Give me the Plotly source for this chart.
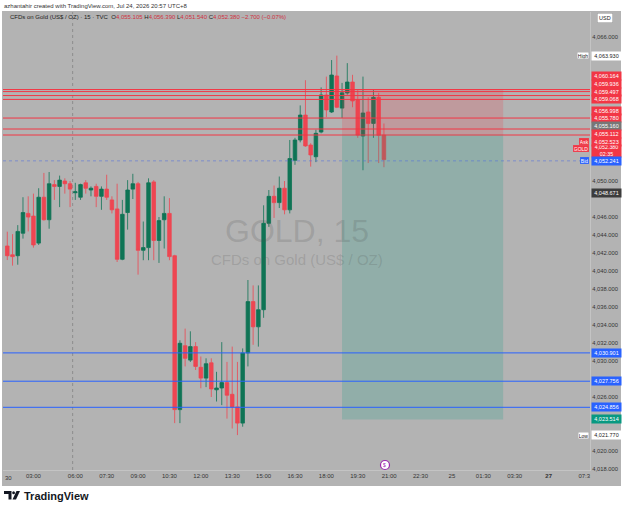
import plotly.graph_objects as go

# ---------------- data ----------------
bar_index = list(range(-13, 60))
open_ = [4042.78, 4041.8, 4041.7, 4044.2, 4046.4, 4046.1, 4043.1, 4048.2, 4045.7, 4049.6,
         4049.4, 4050.0, 4049.7, 4048.7, 4048.2, 4049.8, 4049.0, 4049.4, 4048.3, 4049.1,
         4047.9, 4046.9, 4041.3, 4046.5, 4049.1, 4049.7, 4042.3, 4042.6, 4049.9, 4043.4,
         4045.7, 4046.4, 4041.7, 4024.6, 4031.7, 4030.1, 4031.6, 4029.3, 4028.1, 4029.8,
         4026.8, 4027.0, 4027.6, 4026.3, 4024.9, 4023.1, 4030.9, 4036.6, 4033.8, 4035.7,
         4045.3, 4048.3, 4047.6, 4049.2, 4046.8, 4052.3, 4054.56, 4057.33, 4054.0, 4052.7,
         4055.44, 4059.56, 4057.67, 4061.67, 4058.1, 4059.78, 4061.0, 4059.0, 4055.0, 4057.67,
         4056.4, 4059.3, 4055.105]
high = [4044.37, 4044.1, 4045.1, 4048.2, 4048.3, 4048.6, 4049.2, 4050.9, 4051.0, 4050.1,
        4050.6, 4050.3, 4050.0, 4049.8, 4049.7, 4050.1, 4049.4, 4049.7, 4049.4, 4050.7,
        4048.3, 4049.7, 4047.9, 4050.1, 4050.8, 4049.9, 4045.5, 4050.3, 4050.1, 4046.0,
        4048.3, 4048.1, 4041.8, 4032.3, 4033.6, 4033.3, 4032.1, 4030.5, 4030.3, 4030.3,
        4028.8, 4032.1, 4029.9, 4031.6, 4029.9, 4031.4, 4039.0, 4038.4, 4038.4, 4047.3,
        4049.0, 4049.5, 4050.5, 4050.0, 4054.56, 4054.8, 4058.4, 4061.2, 4054.2, 4055.7,
        4060.4, 4061.6, 4063.44, 4063.93, 4060.9, 4063.1, 4061.8, 4060.1, 4061.6, 4059.3,
        4060.1, 4059.8, 4056.39]
low = [4041.22, 4040.6, 4040.7, 4043.6, 4044.4, 4042.6, 4042.9, 4045.6, 4044.7, 4047.9,
       4047.1, 4048.6, 4047.1, 4047.9, 4047.9, 4048.6, 4048.3, 4047.1, 4046.8, 4047.9,
       4046.4, 4041.0, 4041.2, 4044.6, 4048.0, 4039.6, 4041.2, 4041.2, 4041.2, 4040.9,
       4042.5, 4041.2, 4023.1, 4023.1, 4029.4, 4029.9, 4029.0, 4026.97, 4027.1, 4026.0,
       4025.5, 4025.1, 4023.6, 4022.5, 4021.77, 4022.7, 4029.4, 4031.8, 4031.6, 4034.8,
       4044.9, 4045.9, 4047.0, 4046.3, 4046.4, 4051.8, 4054.3, 4053.8, 4051.6, 4052.1,
       4055.3, 4057.1, 4057.56, 4058.1, 4057.0, 4059.6, 4058.2, 4054.8, 4051.2, 4052.0,
       4054.8, 4052.0, 4051.54]
close = [4041.70, 4041.6, 4044.4, 4046.5, 4046.0, 4042.9, 4048.2, 4045.7, 4049.7, 4049.4,
         4050.1, 4049.7, 4049.1, 4048.8, 4049.6, 4049.2, 4049.2, 4048.3, 4049.1, 4048.2,
         4046.8, 4041.3, 4046.3, 4049.0, 4049.7, 4042.3, 4042.6, 4049.8, 4043.4, 4045.6,
         4046.4, 4041.6, 4024.6, 4031.97, 4030.3, 4031.6, 4029.4, 4028.1, 4029.7, 4026.9,
         4027.0, 4027.6, 4026.2, 4024.9, 4023.1, 4030.9, 4036.6, 4033.8, 4035.7, 4045.3,
         4048.3, 4047.6, 4049.2, 4046.8, 4052.5, 4054.56, 4057.33, 4053.9, 4052.9, 4055.3,
         4059.56, 4057.9, 4061.78, 4058.2, 4059.8, 4061.0, 4058.9, 4055.1, 4057.56, 4056.4,
         4059.3, 4055.08, 4052.38]

time_tick_pos = [-8, 0, 6, 12, 18, 24, 30, 36, 42, 48, 54, 60, 66, 72, 78, 84, 90.5, 97.3]
time_tick_text = ["03:00", "06:00", "07:30", "09:00", "10:30", "12:00", "13:30", "15:00",
                  "16:30", "18:00", "19:30", "21:00", "22:30", "25", "01:30", "03:30",
                  "<b>27</b>", "07:3"]
session_break = -0.5

price_ticks = list(range(4018, 4067, 2))

red_levels = [4060.164, 4059.936, 4059.497, 4059.068, 4056.998, 4055.780, 4055.112]
blue_levels = [4030.901, 4027.756, 4024.856]
bid_price = 4052.241
ask_price = 4052.523
last_price = 4052.380
entry_price = 4055.160
stop_price = 4060.164
target_price = 4023.514
day_high = 4063.930
day_low = 4021.770
prev_close = 4048.671
pos_start_bar = 51
pos_end_bar = 81.8

# ---------------- layout constants ----------------
W, H = 625, 509
ML, MR, MT, MB = 3, 35, 12, 39
PW = W - ML - MR
PH = H - MT - MB
Y_TOP, Y_BOT = 4068.78, 4017.89
X_LEFT, X_RIGHT = -13.82, 98.4

UP = "#0f7455"
DN = "#ee4652"
RED = "#f23645"
BLUE = "#2962ff"
BG = "#b3b3b3"
FONT = "Liberation Sans, Arial, sans-serif"


def px2x(px):
    return (px - ML) / PW


def py2y(py):
    return 1 - (py - MT) / PH


def price2py(p):
    return MT + (Y_TOP - p) / (Y_TOP - Y_BOT) * PH


fig = go.Figure()
fig.add_trace(go.Candlestick(
    x=bar_index, open=open_, high=high, low=low, close=close,
    increasing=dict(line=dict(color=UP, width=0.8), fillcolor=UP),
    decreasing=dict(line=dict(color=DN, width=0.8), fillcolor=DN),
    whiskerwidth=0, showlegend=False, hoverinfo="skip"))

shapes = []
shapes.append(dict(type="rect", xref="paper", yref="paper", layer="below",
                   x0=px2x(2), x1=px2x(621), y0=py2y(486), y1=py2y(11),
                   fillcolor=BG, line=dict(width=0)))
shapes.append(dict(type="rect", xref="x", yref="y", layer="above",
                   x0=pos_start_bar, x1=pos_end_bar, y0=entry_price, y1=stop_price,
                   fillcolor="rgba(242,54,69,0.2)", line=dict(width=0)))
shapes.append(dict(type="rect", xref="x", yref="y", layer="above",
                   x0=pos_start_bar, x1=pos_end_bar, y0=target_price, y1=entry_price,
                   fillcolor="rgba(8,153,129,0.2)", line=dict(width=0)))
shapes.append(dict(type="line", xref="x", yref="paper", x0=session_break, x1=session_break,
                   y0=0, y1=1, line=dict(color="#8c8c8c", width=1, dash="dot"), layer="below"))
shapes.append(dict(type="line", xref="paper", yref="y", x0=0, x1=1, y0=bid_price, y1=bid_price,
                   line=dict(color="rgba(80,110,220,0.55)", width=1, dash="dot")))
for lv in red_levels:
    shapes.append(dict(type="line", xref="paper", yref="y", x0=0, x1=1, y0=lv, y1=lv,
                       line=dict(color=RED, width=1)))
for lv in blue_levels:
    shapes.append(dict(type="line", xref="paper", yref="y", x0=0, x1=1, y0=lv, y1=lv,
                       line=dict(color=BLUE, width=1)))
ex, ey, er = 385, 465, 4.5
shapes.append(dict(type="circle", xref="paper", yref="paper",
                   x0=px2x(ex - er), x1=px2x(ex + er), y0=py2y(ey + er), y1=py2y(ey - er),
                   fillcolor="white", line=dict(color="#9c27b0", width=1.2)))
shapes.append(dict(type="path", xref="paper", yref="paper", fillcolor="#131722", line=dict(width=0),
                   path=" ".join([
                       f"M {px2x(4)},{py2y(491)}", f"L {px2x(11.5)},{py2y(491)}",
                       f"L {px2x(11.5)},{py2y(499.5)}", f"L {px2x(8.5)},{py2y(499.5)}",
                       f"L {px2x(8.5)},{py2y(494)}", f"L {px2x(4)},{py2y(494)}", "Z"])))
shapes.append(dict(type="circle", xref="paper", yref="paper", fillcolor="#131722", line=dict(width=0),
                   x0=px2x(12.2), x1=px2x(15), y0=py2y(494.2), y1=py2y(491.2)))
shapes.append(dict(type="path", xref="paper", yref="paper", fillcolor="#131722", line=dict(width=0),
                   path=" ".join([
                       f"M {px2x(16.5)},{py2y(491)}", f"L {px2x(20)},{py2y(491)}",
                       f"L {px2x(16)},{py2y(499.5)}", f"L {px2x(12.5)},{py2y(499.5)}", "Z"])))

ann = []
ann.append(dict(xref="paper", yref="paper", x=px2x(2), y=py2y(5.5), xanchor="left", yanchor="middle",
                text="azhantahir created with TradingView.com, Jul 24, 2026 20:57 UTC+8",
                showarrow=False, font=dict(size=6, color="#333", family=FONT)))
rc = "#d0303f"
hdr = ("CFDs on Gold (US$ / OZ) · 15 · TVC&nbsp;&nbsp;"
       f"O<span style='color:{rc}'>4,055.105</span> H<span style='color:{rc}'>4,056.390</span> "
       f"L<span style='color:{rc}'>4,051.540</span> C<span style='color:{rc}'>4,052.380</span> "
       f"<span style='color:{rc}'>−2.700 (−0.07%)</span>")
ann.append(dict(xref="paper", yref="paper", x=px2x(8), y=py2y(17.5), xanchor="left", yanchor="middle",
                text=hdr, showarrow=False, font=dict(size=6, color="#222", family=FONT)))
ann.append(dict(xref="paper", yref="paper", x=px2x(297), y=py2y(231), xanchor="center", yanchor="middle",
                text="GOLD, 15", showarrow=False,
                font=dict(size=32, color="rgba(80,80,80,0.2)", family=FONT)))
ann.append(dict(xref="paper", yref="paper", x=px2x(297), y=py2y(259.5), xanchor="center", yanchor="middle",
                text="CFDs on Gold (US$ / OZ)", showarrow=False,
                font=dict(size=15, color="rgba(80,80,80,0.2)", family=FONT)))
ann.append(dict(xref="paper", yref="paper", x=px2x(605), y=py2y(18), xanchor="center", yanchor="middle",
                text="USD", showarrow=False, bgcolor="white", bordercolor="#9a9a9a", borderwidth=0.5,
                borderpad=1.5, font=dict(size=5.5, color="#222", family=FONT)))
ann.append(dict(xref="paper", yref="paper", x=px2x(3), y=py2y(477.5), xanchor="left", yanchor="middle",
                text="30", showarrow=False, font=dict(size=6, color="#333", family=FONT)))
ann.append(dict(xref="paper", yref="paper", x=px2x(ex), y=py2y(ey), xanchor="center", yanchor="middle",
                text="$", showarrow=False, font=dict(size=5, color="#9c27b0", family=FONT)))
ann.append(dict(xref="paper", yref="paper", x=px2x(22), y=py2y(495.5), xanchor="left", yanchor="middle",
                text="<b>TradingView</b>", showarrow=False, font=dict(size=11, color="#131722", family=FONT)))

# price-scale labels (stacked upward from the bottom to avoid overlap)
labels = [
    dict(p=day_high, bg="white", fg="#222", h=7.75, tag="High"),
    dict(p=red_levels[0], bg=RED, fg="white", h=7.75),
    dict(p=red_levels[1], bg=RED, fg="white", h=7.75),
    dict(p=red_levels[2], bg=RED, fg="white", h=7.75),
    dict(p=red_levels[3], bg=RED, fg="white", h=7.75),
    dict(p=red_levels[4], bg=RED, fg="white", h=7.75),
    dict(p=red_levels[5], bg=RED, fg="white", h=7.75),
    dict(p=entry_price, bg="#777777", fg="white", h=7.75),
    dict(p=red_levels[6], bg=RED, fg="white", h=7.75),
    dict(p=ask_price, bg=RED, fg="white", h=7.75, tag="Ask"),
    dict(p=last_price, bg=RED, fg="white", h=11.5, tag="GOLD", extra="02:35"),
    dict(p=bid_price, bg=BLUE, fg="white", h=7.75, tag="Bid"),
    dict(p=prev_close, bg="#3c3c3c", fg="white", h=7.75),
    dict(p=blue_levels[0], bg=BLUE, fg="white", h=7.75),
    dict(p=blue_levels[1], bg=BLUE, fg="white", h=7.75),
    dict(p=blue_levels[2], bg=BLUE, fg="white", h=7.75),
    dict(p=target_price, bg="#089981", fg="white", h=7.75),
    dict(p=day_low, bg="white", fg="#222", h=7.75, tag="Low"),
]
labels.sort(key=lambda d: -d["p"])
for d in labels:
    d["cy"] = price2py(d["p"])
for i in range(len(labels) - 2, -1, -1):
    lim = labels[i + 1]["cy"] - (labels[i]["h"] + labels[i + 1]["h"]) / 2
    labels[i]["cy"] = min(labels[i]["cy"], lim)

# hide scale ticks that sit under a price label
visible_ticks = []
for t in price_ticks:
    ty = price2py(t)
    covered = any(abs(ty - d["cy"]) < d["h"] / 2 + 3.8 for d in labels)
    if not covered:
        visible_ticks.append(t)
visible_tick_text = [f"{t:,}.000" for t in visible_ticks]

for d in labels:
    txt = f"{d['p']:,.3f}"
    if d.get("extra"):
        txt += "<br>" + d["extra"]
    ann.append(dict(xref="paper", yref="paper", x=px2x(590.5), y=py2y(d["cy"]), xanchor="left",
                    yanchor="middle", text=txt, showarrow=False, bgcolor=d["bg"], width=28,
                    height=d["h"] - 1, borderpad=0.5, align="center",
                    font=dict(size=5.3 if d.get("extra") else 5.5, color=d["fg"], family=FONT)))
    if d.get("tag"):
        tcy = d["cy"] - (2.3 if d.get("extra") else 0)
        tag_bg = d["bg"]
        ann.append(dict(xref="paper", yref="paper", x=px2x(588.8), y=py2y(tcy), xanchor="right",
                        yanchor="middle", text=d["tag"], showarrow=False, bgcolor=tag_bg,
                        bordercolor="#9a9a9a" if tag_bg == "white" else tag_bg, borderwidth=0.3,
                        height=5.5, borderpad=0.5,
                        font=dict(size=5, color=d["fg"], family=FONT)))

fig.update_layout(
    width=W, height=H, margin=dict(l=ML, r=MR, t=MT, b=MB),
    paper_bgcolor="white", plot_bgcolor=BG,
    boxgap=0.2, boxgroupgap=0.15,
    shapes=shapes, annotations=ann, showlegend=False,
    font=dict(family=FONT),
    xaxis=dict(range=[X_LEFT, X_RIGHT], rangeslider=dict(visible=False), showgrid=False,
               zeroline=False, tickmode="array", tickvals=time_tick_pos, ticktext=time_tick_text,
               ticks="", tickfont=dict(size=6, color="#333"), showline=True,
               linecolor="#c4c4c4", linewidth=1, fixedrange=True),
    yaxis=dict(range=[Y_BOT, Y_TOP], side="right", showgrid=False, zeroline=False,
               tickmode="array", tickvals=visible_ticks, ticktext=visible_tick_text, ticks="",
               tickfont=dict(size=5.8, color="#333"), showline=True, linecolor="#c4c4c4",
               linewidth=1, fixedrange=True),
)

fig.write_html("out.html")
